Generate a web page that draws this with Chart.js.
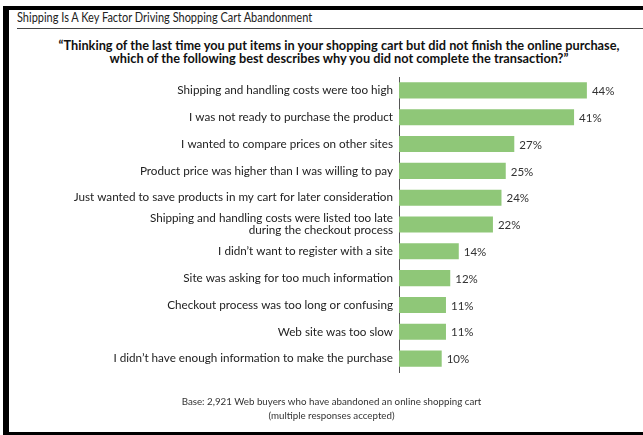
<!DOCTYPE html>
<html lang="en">
<head>
  <meta charset="UTF-8" />
  <title>Shopping Cart Abandonment</title>
  <script src="https://cdn.jsdelivr.net/npm/chart.js"></script>
  <style>
    * {
      box-sizing: border-box;
      margin: 0;
      padding: 0;
    }

    body {
      width: 643px;
      height: 435px;
      background: white;
      position: relative;
      overflow: hidden;
      font-family: 'Lato', 'Roboto', sans-serif;
      color: #222;
    }

    .frame {
      position: absolute;
      left: 3px;
      top: 6px;
      right: 0;
      bottom: 0;
      border-top: 4px solid #000;
      border-left: 6px solid #000;
      border-bottom: 3px solid #000;
    }

    .title {
      position: absolute;
      left: 17px;
      top: 9px;
      font-size: 13px;
      line-height: 16px;
      color: #222;
      white-space: nowrap;
      transform: scaleX(0.845);
      transform-origin: left center;
    }

    .rule {
      position: absolute;
      left: 17px;
      right: 0;
      top: 28px;
      height: 1px;
      background: #444;
    }

    .question {
      position: absolute;
      left: 35px;
      right: 0;
      top: 39px;
      text-align: center;
      font-weight: bold;
      font-size: 12.75px;
      line-height: 13px;
      color: #111;
      white-space: nowrap;
    }

    .note {
      position: absolute;
      left: 20px;
      right: 0;
      top: 395px;
      text-align: center;
      font-size: 9.75px;
      line-height: 13.5px;
      color: #333;
      white-space: nowrap;
    }

    canvas {
      position: absolute;
      left: 0;
      top: 0;
    }
  </style>
</head>
<body>
  <div class="frame"></div>
  <div class="title">Shipping Is A Key Factor Driving Shopping Cart Abandonment</div>
  <div class="rule"></div>
  <div class="question">“Thinking of the last time you put items in your shopping cart but did not finish the online purchase,<br>which of the following best describes why you did not complete the transaction?”</div>
  <canvas id="chart" width="643" height="435"></canvas>
  <div class="note">Base: 2,921 Web buyers who have abandoned an online shopping cart<br>(multiple responses accepted)</div>

<script>
  const reasons = [
    'Shipping and handling costs were too high',
    'I was not ready to purchase the product',
    'I wanted to compare prices on other sites',
    'Product price was higher than I was willing to pay',
    'Just wanted to save products in my cart for later consideration',
    ['Shipping and handling costs were listed too late', 'during the checkout process'],
    'I didn\u2019t want to register with a site',
    'Site was asking for too much information',
    'Checkout process was too long or confusing',
    'Web site was too slow',
    'I didn\u2019t have enough information to make the purchase'
  ];
  const percents = [44, 41, 27, 25, 24, 22, 14, 12, 11, 11, 10];

  const fontFamily = "'Lato', 'Roboto', sans-serif";

  // percentage labels right of each bar
  const valueLabels = {
    id: 'valueLabels',
    afterDatasetsDraw(chart) {
      const ctx = chart.ctx;
      const meta = chart.getDatasetMeta(0);
      ctx.save();
      ctx.font = '11.5px ' + fontFamily;
      ctx.fillStyle = '#333';
      ctx.textAlign = 'left';
      ctx.textBaseline = 'middle';
      meta.data.forEach((bar, i) => {
        ctx.fillText(percents[i] + '%', bar.x + 5, bar.y + 1);
      });
      ctx.restore();
    }
  };

  new Chart(document.getElementById('chart'), {
    type: 'bar',
    data: {
      labels: reasons,
      datasets: [{
        data: percents,
        backgroundColor: '#8fc778',
        borderWidth: 0,
        categoryPercentage: 1,
        barPercentage: 0.6
      }]
    },
    options: {
      indexAxis: 'y',
      responsive: false,
      animation: false,
      layout: {
        padding: { top: 77, bottom: 63, left: 0, right: 30.5 }
      },
      plugins: {
        legend: { display: false },
        tooltip: { enabled: false }
      },
      scales: {
        x: {
          display: false,
          min: 0,
          max: 50
        },
        y: {
          afterFit(scale) { scale.width = 399; },
          grid: { display: false, drawTicks: false },
          border: { display: true, color: '#555', width: 1 },
          ticks: {
            autoSkip: false,
            padding: 6,
            color: '#222',
            font: { family: fontFamily, size: 11.7, lineHeight: 1.0 }
          }
        }
      }
    },
    plugins: [valueLabels]
  });
</script>
</body>
</html>
